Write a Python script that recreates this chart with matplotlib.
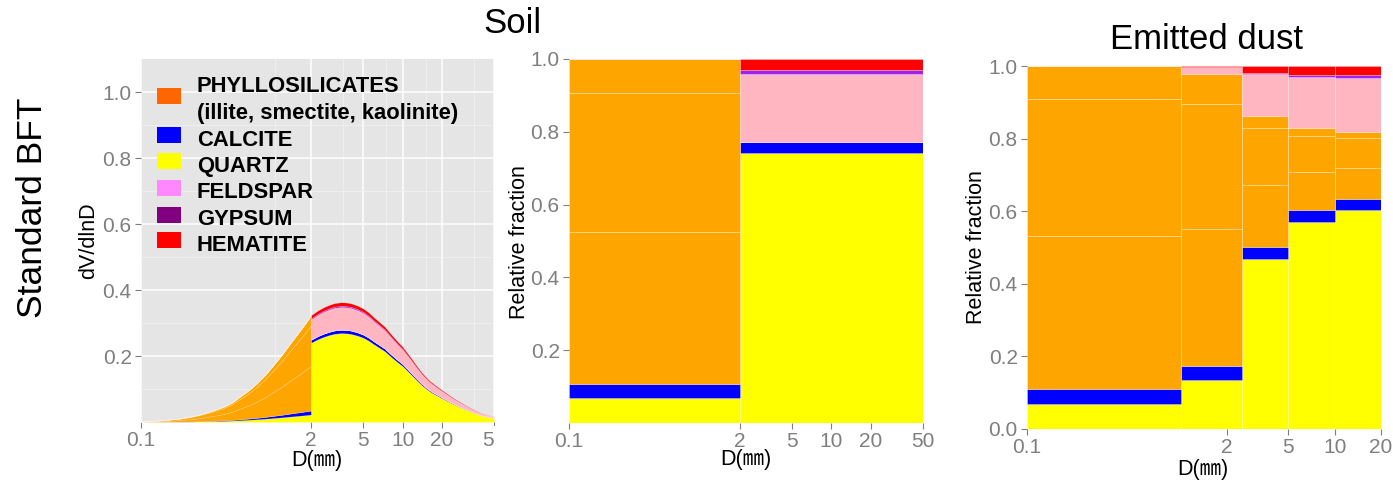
import numpy as np
import matplotlib
matplotlib.use("Agg")
import matplotlib.pyplot as plt
from matplotlib.patches import Rectangle

plt.rcParams['font.family'] = ['Liberation Sans', 'Noto Sans CJK JP', 'DejaVu Sans']

# soil size distribution dV/dlnD
diam = [0.1, 0.12, 0.15, 0.19, 0.237, 0.27, 0.3, 0.35, 0.426, 0.5, 0.57, 0.66, 0.767,
        0.9, 1.03, 1.2, 1.38, 1.55, 1.7, 1.85, 2.0,
        2.25, 2.5, 2.75, 3.0, 3.4, 3.7, 4.0, 4.5, 5.0, 5.5, 6.0, 6.6, 7.3, 8.2, 9.0,
        10, 11.5, 13, 14, 16, 18, 20, 23, 26, 30, 35, 40, 48, 50]
dvdlnd = [0.001, 0.003, 0.006, 0.010, 0.016, 0.021, 0.026, 0.034, 0.046, 0.060, 0.077,
          0.095, 0.117, 0.145, 0.173, 0.205, 0.238, 0.264, 0.285, 0.305, 0.324,
          0.338, 0.348, 0.355, 0.360, 0.363, 0.362, 0.360, 0.353, 0.344, 0.332, 0.318,
          0.304, 0.289, 0.265, 0.247, 0.228, 0.196, 0.167, 0.150, 0.126, 0.110, 0.097,
          0.080, 0.066, 0.052, 0.038, 0.027, 0.018, 0.016]

# soil mineral fractions, bins 0.1-2 and 2-50
soil_edges = [0.1, 2, 50]
soil_quartz = [0.069, 0.742]
soil_calcite = [0.038, 0.029]
soil_illite = [0.418, 0.0]
soil_smectite = [0.382, 0.0]
soil_kaolinite = [0.093, 0.0]
soil_feldspar = [0.0, 0.189]
soil_gypsum = [0.0, 0.010]
soil_hematite = [0.0, 0.030]

# emitted dust mineral fractions
dust_edges = [0.1, 1, 2.5, 5, 10, 20]
dust_quartz = [0.069, 0.135, 0.467, 0.571, 0.603]
dust_calcite = [0.040, 0.038, 0.034, 0.032, 0.030]
dust_illite = [0.422, 0.379, 0.172, 0.105, 0.087]
dust_smectite = [0.378, 0.344, 0.155, 0.098, 0.081]
dust_kaolinite = [0.091, 0.081, 0.035, 0.022, 0.016]
dust_feldspar = [0.0, 0.020, 0.114, 0.142, 0.151]
dust_gypsum = [0.0, 0.0, 0.005, 0.006, 0.007]
dust_hematite = [0.0, 0.003, 0.018, 0.024, 0.025]

fill_colors = ["#FFFF00", "#0000FF", "#FFA500", "#FFA500", "#FFA500", "#FFB6C1", "#A020F0", "#FF0000"]

legend_labels = ["PHYLLOSILICATES\n(illite, smectite, kaolinite)", "CALCITE", "QUARTZ",
                 "FELDSPAR", "GYPSUM", "HEMATITE"]
legend_colors = ["#FF6600", "#0000FF", "#FFFF00", "#FF88FF", "#800080", "#FF0000"]

soil_ticks = [0.1, 2, 5, 10, 20, 50]
dust_ticks = [0.1, 2, 5, 10, 20]

W, H = 1393, 483
GREY = "#7F7F7F"
SEAM = (1, 1, 1, 0.3)


def box(l, t, r, b):
    return [l / W, 1 - b / H, (r - l) / W, (b - t) / H]


def style(ax):
    for s in ax.spines.values():
        s.set_visible(False)
    ax.set_xscale("log")
    ax.tick_params(which="major", length=4.25, width=0.8, color=GREY,
                   labelcolor=GREY, labelsize=15, pad=2.5)
    ax.tick_params(which="minor", length=0)


fig = plt.figure(figsize=(W / 100, H / 100), dpi=100)

soil_layers = [soil_quartz, soil_calcite, soil_illite, soil_smectite, soil_kaolinite,
               soil_feldspar, soil_gypsum, soil_hematite]
dust_layers = [dust_quartz, dust_calcite, dust_illite, dust_smectite, dust_kaolinite,
               dust_feldspar, dust_gypsum, dust_hematite]

# ---- left: stacked size distribution
ax1 = fig.add_axes(box(141, 59, 494, 422))
style(ax1)
ax1.set_facecolor("#E5E5E5")
ax1.set_axisbelow(True)
d = np.array(diam)
v = np.array(dvdlnd)
for k, mask in enumerate([d <= 2, d >= 2]):
    base = np.zeros(mask.sum())
    for layer, c in zip(soil_layers, fill_colors):
        top = base + v[mask] * layer[k]
        ax1.fill_between(d[mask], base, top, facecolor=c, edgecolor=SEAM, linewidth=0.4)
        base = top
ax1.set_xlim(0.1, 50)
ax1.set_ylim(0, 1.1)
ax1.set_xticks(soil_ticks, [f"{t:g}" for t in soil_ticks])
minor_x = [1.05, 3.5, 7.5, 15, 35]
ax1.set_xticks(minor_x, [""] * len(minor_x), minor=True)
ax1.set_yticks([0.2, 0.4, 0.6, 0.8, 1.0], ["0.2", "0.4", "0.6", "0.8", "1.0"])
minor_y = [0.1, 0.3, 0.5, 0.7, 0.9]
ax1.set_yticks(minor_y, [""] * len(minor_y), minor=True)
ax1.grid(which="major", color="white", linewidth=1.1)
ax1.grid(which="minor", color="#F2F2F2", linewidth=0.5)

# hide the part of the "50" label that runs under the next panel
fig.add_artist(Rectangle((494 / W, 1 - 462 / H), 14 / W, 36 / H, transform=fig.transFigure,
                         facecolor="white", edgecolor="none", zorder=10))

# legend
baselines = [92.5, 145.5, 172, 198.5, 225, 251]
for lab, c, yb in zip(legend_labels, legend_colors, baselines):
    yc = yb - 10.5 if "\n" not in lab else 96
    fig.add_artist(Rectangle((157 / W, 1 - (yc + 8) / H), 24 / W, 16 / H,
                             transform=fig.transFigure, facecolor=c, edgecolor="none", zorder=5))
    fig.text(197 / W, 1 - yb / H, lab.split("\n")[0], fontsize=15.8, fontweight="bold",
             va="baseline", ha="left", zorder=6)
    if "\n" in lab:
        fig.text(197 / W, 1 - 119 / H, lab.split("\n")[1], fontsize=15.8, fontweight="bold",
                 va="baseline", ha="left", zorder=6)


def bars(ax, edges, layers):
    left = np.array(edges[:-1])
    width = np.diff(edges)
    base = np.zeros(len(left))
    for layer, c in zip(layers, fill_colors):
        ax.bar(left, layer, width=width, bottom=base, align="edge", color=c,
               edgecolor=SEAM, linewidth=0.6)
        base = base + np.array(layer)


# ---- middle: soil fractions
ax2 = fig.add_axes(box(569, 59, 923, 423))
style(ax2)
bars(ax2, soil_edges, soil_layers)
ax2.set_xlim(0.1, 50)
ax2.set_ylim(0, 1)
ax2.set_xticks(soil_ticks, [f"{t:g}" for t in soil_ticks])
ax2.set_xticks([], minor=True)
ax2.set_yticks([0.2, 0.4, 0.6, 0.8, 1.0], ["0.2", "0.4", "0.6", "0.8", "1.0"])

# ---- right: emitted dust fractions
ax3 = fig.add_axes(box(1027, 66, 1381, 429))
style(ax3)
bars(ax3, dust_edges, dust_layers)
ax3.set_xlim(0.1, 20)
ax3.set_ylim(0, 1)
ax3.set_xticks(dust_ticks, [f"{t:g}" for t in dust_ticks])
ax3.set_xticks([], minor=True)
ax3.set_yticks([0.0, 0.2, 0.4, 0.6, 0.8, 1.0], ["0.0", "0.2", "0.4", "0.6", "0.8", "1.0"])

# titles and axis labels
xlab = "D(㎜)"
fig.text(317 / W, 1 - 466 / H, xlab, fontsize=15.5, ha="center", va="baseline")
fig.text(746 / W, 1 - 465 / H, xlab, fontsize=15.5, ha="center", va="baseline")
fig.text(1203 / W, 1 - 475 / H, xlab, fontsize=15.5, ha="center", va="baseline")

fig.text(94 / W, 1 - 241 / H, "dV/dlnD", fontsize=15.5, rotation=90, rotation_mode="anchor",
         ha="center", va="baseline")
fig.text(525 / W, 1 - 242 / H, "Relative fraction", fontsize=15.5, rotation=90,
         rotation_mode="anchor", ha="center", va="baseline")
fig.text(982 / W, 1 - 247.5 / H, "Relative fraction", fontsize=15.5, rotation=90,
         rotation_mode="anchor", ha="center", va="baseline")

fig.text(512 / W, 1 - 33.3 / H, "Soil", fontsize=25, ha="center", va="baseline")
fig.text(1207 / W, 1 - 49.3 / H, "Emitted dust", fontsize=25, ha="center", va="baseline")
fig.text(42 / W, 1 - 207.5 / H, "Standard BFT", fontsize=25.5, rotation=90,
         rotation_mode="anchor", ha="center", va="baseline")

fig.savefig("out.png", dpi=100)
